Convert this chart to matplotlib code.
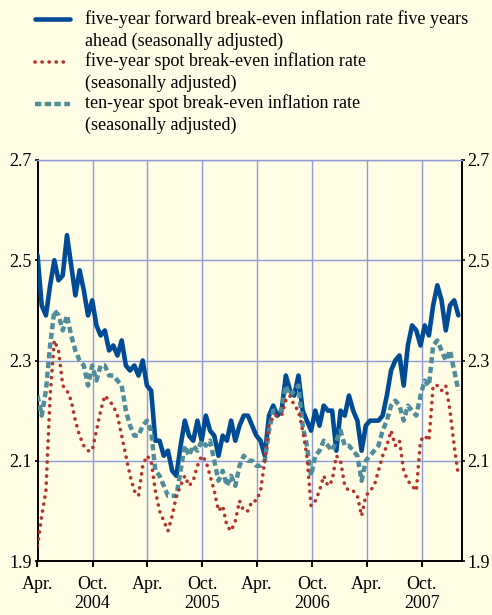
import matplotlib
matplotlib.use("Agg")
import matplotlib.pyplot as plt
import matplotlib.dates as mdates
from matplotlib.lines import Line2D
from matplotlib.ticker import FuncFormatter
import pandas as pd

plt.rcParams['font.family'] = ['Liberation Serif', 'DejaVu Serif']

# biweekly observations, Apr 2004 - Jan 2008
dates = pd.date_range('2004-04-01', periods=101, freq='14D')

forward_5y5y = [
    2.51, 2.41, 2.39, 2.45, 2.50, 2.46, 2.47, 2.55, 2.49, 2.43,
    2.48, 2.44, 2.39, 2.42, 2.37, 2.35, 2.36, 2.32, 2.33, 2.31,
    2.34, 2.29, 2.28, 2.29, 2.27, 2.30, 2.25, 2.24, 2.14, 2.14,
    2.11, 2.12, 2.08, 2.07, 2.13, 2.18, 2.15, 2.14, 2.18, 2.14,
    2.19, 2.16, 2.15, 2.11, 2.15, 2.14, 2.18, 2.14, 2.17, 2.19,
    2.19, 2.17, 2.15, 2.14, 2.11, 2.19, 2.21, 2.19, 2.20, 2.27,
    2.24, 2.23, 2.27, 2.20, 2.18, 2.16, 2.20, 2.17, 2.21, 2.20,
    2.20, 2.12, 2.20, 2.19, 2.23, 2.20, 2.18, 2.12, 2.17, 2.18,
    2.18, 2.18, 2.19, 2.23, 2.28, 2.30, 2.31, 2.25, 2.33, 2.37,
    2.36, 2.33, 2.37, 2.35, 2.41, 2.45, 2.42, 2.36, 2.41, 2.42, 2.39]

spot_5y = [
    1.93, 1.99, 2.04, 2.23, 2.34, 2.32, 2.25, 2.24, 2.22, 2.18,
    2.15, 2.13, 2.12, 2.12, 2.16, 2.20, 2.23, 2.22, 2.21, 2.19,
    2.15, 2.11, 2.07, 2.04, 2.03, 2.09, 2.11, 2.10, 2.04, 2.00,
    1.98, 1.96, 1.99, 2.03, 2.05, 2.07, 2.05, 2.06, 2.09, 2.11,
    2.10, 2.07, 2.04, 2.00, 2.01, 1.97, 1.96, 1.98, 2.02, 2.00,
    2.00, 2.02, 2.02, 2.04, 2.10, 2.17, 2.19, 2.19, 2.19, 2.22,
    2.23, 2.21, 2.20, 2.16, 2.11, 2.01, 2.02, 2.04, 2.07, 2.05,
    2.06, 2.11, 2.10, 2.05, 2.04, 2.04, 2.03, 1.99, 2.03, 2.04,
    2.05, 2.08, 2.11, 2.13, 2.16, 2.13, 2.14, 2.08, 2.06, 2.05,
    2.04, 2.14, 2.15, 2.14, 2.25, 2.25, 2.24, 2.25, 2.20, 2.13, 2.07]

spot_10y = [
    2.23, 2.19, 2.24, 2.33, 2.40, 2.39, 2.36, 2.39, 2.35, 2.32,
    2.30, 2.29, 2.25, 2.29, 2.26, 2.29, 2.29, 2.27, 2.27, 2.26,
    2.25, 2.20, 2.17, 2.15, 2.15, 2.17, 2.18, 2.16, 2.08, 2.07,
    2.05, 2.03, 2.03, 2.03, 2.08, 2.13, 2.11, 2.13, 2.12, 2.14,
    2.13, 2.14, 2.10, 2.06, 2.08, 2.05, 2.07, 2.05, 2.09, 2.11,
    2.10, 2.10, 2.09, 2.09, 2.10, 2.16, 2.20, 2.20, 2.20, 2.25,
    2.23, 2.24, 2.25, 2.17, 2.13, 2.07, 2.11, 2.12, 2.14, 2.13,
    2.12, 2.14, 2.16, 2.13, 2.13, 2.12, 2.11, 2.06, 2.10, 2.11,
    2.12, 2.13, 2.16, 2.18, 2.21, 2.22, 2.21, 2.18, 2.21, 2.20,
    2.19, 2.23, 2.26, 2.25, 2.33, 2.34, 2.32, 2.30, 2.32, 2.28, 2.24]

labels = ["five-year forward break-even inflation rate five years\nahead (seasonally adjusted)",
          "five-year spot break-even inflation rate\n(seasonally adjusted)",
          "ten-year spot break-even inflation rate\n(seasonally adjusted)"]

BG = '#fffde6'
GRID = '#8f9bd8'
BLUE = '#004b96'
RED = '#b2342b'
TEAL = '#4f8c9c'

W, H = 492, 615
fig = plt.figure(figsize=(W / 100, H / 100), dpi=100, facecolor=BG)
ax = fig.add_axes([37.5 / W, 1 - 561 / H, (462 - 37.5) / W, (561 - 160) / H])
ax.set_facecolor(BG)

blue_kw = dict(color=BLUE, lw=3.3, solid_joinstyle='round', solid_capstyle='round')
teal_kw = dict(color=TEAL, lw=3.2, linestyle=(0, (1.4, 0.8)), dash_capstyle='butt')
red_kw = dict(color=RED, lw=2.6, linestyle=(0, (0.05, 1.9)), dash_capstyle='round')

ax.plot(dates, forward_5y5y, zorder=3, **blue_kw)
ax.plot(dates, spot_10y, zorder=4, **teal_kw)
ax.plot(dates, spot_5y, zorder=5, **red_kw)

ax.set_xlim(pd.Timestamp('2004-04-01'), pd.Timestamp('2008-02-12'))
ax.set_ylim(1.9, 2.7)
ax.set_yticks([1.9, 2.1, 2.3, 2.5, 2.7])
ax.yaxis.set_major_formatter(FuncFormatter(lambda v, p: f"{v:.1f}"))

ax.xaxis.set_major_locator(mdates.MonthLocator(bymonth=[4, 10]))


def fmt_date(x, pos):
    d = mdates.num2date(x)
    if d.month == 4:
        return "Apr."
    return "Oct.\n%d" % d.year


ax.xaxis.set_major_formatter(FuncFormatter(fmt_date))

ax.grid(True, color=GRID, lw=1.0, zorder=1)
ax.set_axisbelow(True)
for s in ['left', 'bottom', 'right']:
    ax.spines[s].set_color('black')
    ax.spines[s].set_linewidth(1.4)
ax.spines['top'].set_color(GRID)
ax.spines['top'].set_linewidth(1.0)

ax.tick_params(axis='y', which='major', direction='out', length=2.5, width=1.2,
               labelsize=13, pad=1.5, left=True, right=True, labelleft=True, labelright=True)
ax.tick_params(axis='x', which='major', direction='out', length=4, width=1.4,
               labelsize=13, pad=7)
for t in ax.get_xticklabels():
    t.set_linespacing(1.15)

# legend above the plot
x0, x1, xt = 35 / W, 70 / W, 85 / W
handle_y = [18.5, 62, 104]
base_y = [(24, 45.5), (66.5, 87.5), (108.5, 129.5)]
kws = [blue_kw, red_kw, teal_kw]
for hy, (b1, b2), kw, lab in zip(handle_y, base_y, kws, labels):
    fig.add_artist(Line2D([x0, x1], [1 - hy / H, 1 - hy / H], transform=fig.transFigure, **kw))
    l1, l2 = lab.split('\n')
    fig.text(xt, 1 - b1 / H, l1, fontsize=13, va='baseline', ha='left')
    fig.text(xt, 1 - b2 / H, l2, fontsize=13, va='baseline', ha='left')

fig.savefig('out.png', dpi=100, facecolor=BG)
